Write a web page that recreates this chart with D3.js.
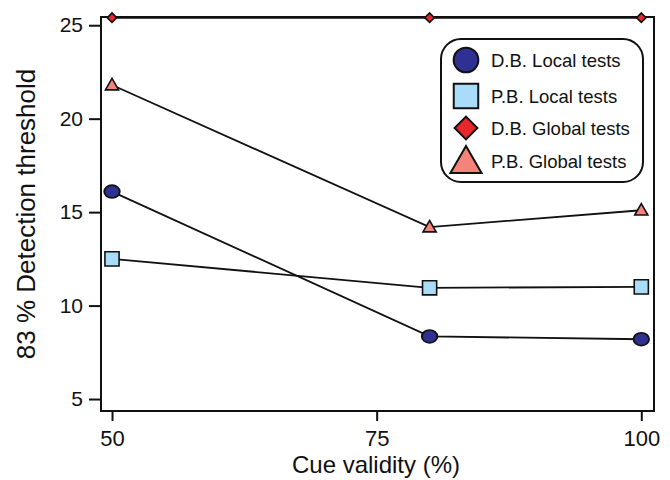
<!DOCTYPE html>
<html><head><meta charset="utf-8">
<script src="https://cdn.jsdelivr.net/npm/d3@7"></script>
<style>body{margin:0;background:#fff}text{font-family:"Liberation Sans",Arial,sans-serif;fill:#111}</style>
</head><body><svg id="c" width="670" height="480"></svg>
<script>
const cueValidity = [50, 80, 100];
const dbLocal = [16.1, 8.35, 8.2];
const pbLocal = [12.5, 10.95, 11.0];
const dbGlobal = [25.4, 25.4, 25.4];
const pbGlobal = [21.8, 14.2, 15.1];
const xTicks = [50, 75, 100];
const yTicks = [5, 10, 15, 20, 25];
const seriesNames = ["D.B. Local tests", "P.B. Local tests", "D.B. Global tests", "P.B. Global tests"];

const svg = d3.select("#c");
const L = 101, R = 654, T = 17, B = 411;
const x = d3.scaleLinear().domain([48.96, 101.2]).range([L, R]);
const y = d3.scaleLinear().domain([4.36, 25.44]).range([B, T]);

const series = [
  {name: seriesNames[0], vals: dbLocal, shape: "circle", fill: "#2e3192"},
  {name: seriesNames[1], vals: pbLocal, shape: "square", fill: "#a8dcf8"},
  {name: seriesNames[2], vals: dbGlobal, shape: "diamond", fill: "#e8262d"},
  {name: seriesNames[3], vals: pbGlobal, shape: "triangle", fill: "#f4837a"}
];

// axes
const yAxis = d3.axisLeft(y).tickValues(yTicks).tickSize(12).tickPadding(6);
const gy = svg.append("g").attr("transform", `translate(${L},0)`).call(yAxis);
const xAxis = d3.axisBottom(x).tickValues(xTicks).tickSize(10).tickPadding(6);
const gx = svg.append("g").attr("transform", `translate(0,${B})`).call(xAxis);
[gy, gx].forEach(g => {
  g.select(".domain").remove();
  g.selectAll("line").attr("stroke", "#111").attr("stroke-width", 2);
  g.selectAll("text").attr("fill", "#111");
});
gy.selectAll("text").style("font-size", "21px");
gx.selectAll("text").style("font-size", "22px").attr("dy", "0.85em");

// frame
svg.append("rect").attr("x", L).attr("y", T).attr("width", R - L).attr("height", B - T)
  .attr("fill", "none").attr("stroke", "#111").attr("stroke-width", 2);

const line = d3.line().x((d, i) => x(cueValidity[i])).y(d => y(d));
series.forEach(s => {
  svg.append("path").datum(s.vals).attr("d", line)
    .attr("fill", "none").attr("stroke", "#111").attr("stroke-width", 1.8);
});

function marker(g, shape, cx, cy, size, fill) {
  const sym = {circle: d3.symbolCircle, square: d3.symbolSquare, diamond: d3.symbolSquare, triangle: d3.symbolTriangle}[shape];
  let p = g.append("path").attr("d", d3.symbol().type(sym).size(size)())
    .attr("fill", fill).attr("stroke", "#111").attr("stroke-width", 1.6);
  if (shape === "circle") p.attr("transform", `translate(${cx},${cy}) scale(1.2,1)`);
  else if (shape === "diamond") p.attr("transform", `translate(${cx},${cy}) rotate(45)`);
  else if (shape === "triangle") p.attr("transform", `translate(${cx},${cy+1})`);
  else p.attr("transform", `translate(${cx},${cy})`);
}
const sizes = {circle: 130, square: 200, diamond: 45, triangle: 75};
series.forEach(s => {
  const g = svg.append("g");
  s.vals.forEach((v, i) => marker(g, s.shape, x(cueValidity[i]), y(v), sizes[s.shape], s.fill));
});

// legend
const lg = svg.append("g");
lg.append("rect").attr("x", 441).attr("y", 39).attr("width", 202).attr("height", 143)
  .attr("rx", 20).attr("fill", "#fff").attr("stroke", "#111").attr("stroke-width", 2);
const rows = [60, 96, 128, 161];
series.forEach((s, i) => {
  if (s.shape === "circle") {
    lg.append("path").attr("d", d3.symbol().type(d3.symbolCircle).size(480)())
      .attr("transform", `translate(466,${rows[i]})`).attr("fill", s.fill).attr("stroke", "#111").attr("stroke-width", 2);
  } else if (s.shape === "diamond") {
    lg.append("path").attr("d", d3.symbol().type(d3.symbolSquare).size(260)())
      .attr("transform", `translate(466,${rows[i]}) rotate(45)`).attr("fill", s.fill).attr("stroke", "#111").attr("stroke-width", 2);
  } else if (s.shape === "triangle") {
    lg.append("path").attr("d", d3.symbol().type(d3.symbolTriangle).size(420)())
      .attr("transform", `translate(466,${rows[i]+3})`).attr("fill", s.fill).attr("stroke", "#111").attr("stroke-width", 2);
  } else {
    lg.append("path").attr("d", d3.symbol().type(d3.symbolSquare).size(600)())
      .attr("transform", `translate(466,${rows[i]})`).attr("fill", s.fill).attr("stroke", "#111").attr("stroke-width", 2);
  }
  lg.append("text").attr("x", 491).attr("y", rows[i]).attr("dy", "0.36em")
    .style("font-size", "18.5px").text(s.name);
});

// axis titles
svg.append("text").attr("x", 376).attr("y", 473).attr("text-anchor", "middle")
  .style("font-size", "24px").text("Cue validity (%)");
svg.append("text").attr("transform", "translate(35,214) rotate(-90)").attr("text-anchor", "middle")
  .style("font-size", "26px").text("83 % Detection threshold");
</script></body></html>
